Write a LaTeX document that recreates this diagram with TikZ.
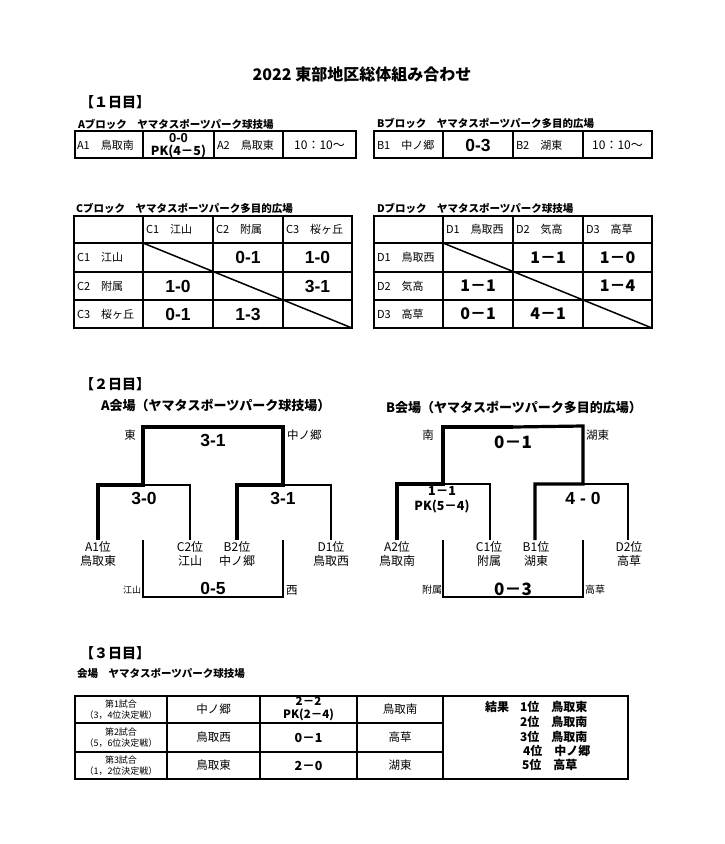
\documentclass[tikz,border=0pt]{standalone}
\usepackage{fontspec}
\setmainfont{Noto Sans CJK JP}
\newfontfamily\latinb{Liberation Sans}
\newcommand\fsz[2]{\fontsize{#1pt}{#2pt}\selectfont}
\tikzset{
  txt/.style={inner sep=0pt, outer sep=0pt},
  ttl/.style={txt, font=\fsz{16}{19}\bfseries},
  daylbl/.style={txt, anchor=west, font=\fsz{14}{17}\bfseries},
  blk/.style={txt, anchor=west, font=\fsz{10.5}{12}\bfseries},
  venue/.style={txt, anchor=west, font=\fsz{13}{15}\bfseries},
  cell/.style={txt, anchor=west, font=\fsz{11}{13}},
  cellc/.style={txt, font=\fsz{11}{13}},
  bigscore/.style={txt, font=\fsz{16}{19}\bfseries},
  arscore/.style={txt, font=\fsz{17.5}{20}\latinb\bfseries},
  midscore/.style={txt, align=center, font=\fsz{12.5}{14.5}\bfseries},
  team/.style={txt, align=center, font=\fsz{12}{14.5}},
  side/.style={txt, font=\fsz{11.5}{13}},
  sidesmall/.style={txt, font=\fsz{9}{10}},
  gridline/.style={line width=2pt},
  winline/.style={line width=3.2pt, line join=miter},
  loseline/.style={line width=1.8pt, line join=miter},
  diag/.style={line width=1.5pt},
  gamelbl/.style={txt, align=center, font=\fsz{9}{11.5}},
  res/.style={txt, anchor=west, font=\fsz{12}{14}\bfseries},
}
\begin{document}
\begin{tikzpicture}[x=1pt,y=-1pt]
\useasboundingbox (0,0) rectangle (724,844);
\fill[white] (0,0) rectangle (724,844);

% title
\node[ttl] (title) at (362,74) {2022 東部地区総体組み合わせ};

% ---------------- Day 1 ----------------
\node[daylbl] (day1) at (80,102) {【１日目】};

% A block
\node[blk] (alab) at (78,124) {Aブロック　ヤマタスポーツパーク球技場};
\draw[gridline] (75,131) rectangle (356,158);
\draw[gridline] (143,131) -- (143,158) (214,131) -- (214,158) (283,131) -- (283,158);
\node[cell] (a1) at (77,145) {A1　鳥取南};
\node[arscore, font=\fsz{13}{15}\latinb\bfseries] (asc1) at (178.5,138) {0-0};
\node[midscore] (asc2) at (178.5,152) {PK(4－5)};
\node[cell] (a2) at (217,145) {A2　鳥取東};
\node[cellc, font=\fsz{12}{14}] (atime) at (319.5,145) {10：10～};

% B block
\node[blk] (blab) at (377,123) {Bブロック　ヤマタスポーツパーク多目的広場};
\draw[gridline] (374,131) rectangle (652,158);
\draw[gridline] (443,131) -- (443,158) (513,131) -- (513,158) (583,131) -- (583,158);
\node[cell] (b1) at (377,145) {B1　中ノ郷};
\node[arscore] (bsc) at (478,145) {0-3};
\node[cell] (b2) at (516,145) {B2　湖東};
\node[cellc, font=\fsz{12}{14}] (btime) at (617.5,145) {10：10～};

% C block
\node[blk] (clab) at (76,208) {Cブロック　ヤマタスポーツパーク多目的広場};
\draw[gridline] (74,216) rectangle (352,328);
\draw[gridline] (143,216) -- (143,328) (213,216) -- (213,328) (283,216) -- (283,328);
\draw[gridline] (74,243) -- (352,243) (74,272) -- (352,272) (74,300) -- (352,300);
\draw[diag] (143,243) -- (352,328);
\node[cell] (ch1) at (146,229.5) {C1　江山};
\node[cell] (ch2) at (216,229.5) {C2　附属};
\node[cell] (ch3) at (286,229.5) {C3　桜ヶ丘};
\node[cell] (cr1) at (77,257.5) {C1　江山};
\node[cell] (cr2) at (77,286) {C2　附属};
\node[cell] (cr3) at (77,314) {C3　桜ヶ丘};
\node[arscore] (c12) at (248,257.5) {0-1};
\node[arscore] (c13) at (317.5,257.5) {1-0};
\node[arscore] (c21) at (178,286) {1-0};
\node[arscore] (c23) at (317.5,286) {3-1};
\node[arscore] (c31) at (178,314) {0-1};
\node[arscore] (c32) at (248,314) {1-3};

% D block
\node[blk] (dlab) at (377,208) {Dブロック　ヤマタスポーツパーク球技場};
\draw[gridline] (374,216) rectangle (652,328);
\draw[gridline] (443,216) -- (443,328) (513,216) -- (513,328) (583,216) -- (583,328);
\draw[gridline] (374,243) -- (652,243) (374,272) -- (652,272) (374,300) -- (652,300);
\draw[diag] (443,243) -- (652,328);
\node[cell] (dh1) at (446,229.5) {D1　鳥取西};
\node[cell] (dh2) at (516,229.5) {D2　気高};
\node[cell] (dh3) at (586,229.5) {D3　高草};
\node[cell] (dr1) at (377,257.5) {D1　鳥取西};
\node[cell] (dr2) at (377,286) {D2　気高};
\node[cell] (dr3) at (377,314) {D3　高草};
\node[bigscore] (d12) at (548,257.5) {1－1};
\node[bigscore] (d13) at (617.5,257.5) {1－0};
\node[bigscore] (d21) at (478,286) {1－1};
\node[bigscore] (d23) at (617.5,286) {1－4};
\node[bigscore] (d31) at (478,314) {0－1};
\node[bigscore] (d32) at (548,314) {4－1};

% ---------------- Day 2 ----------------
\node[daylbl] (day2) at (80,384) {【２日目】};

% A venue
\node[venue] (avenue) at (101,405) {A会場（ヤマタスポーツパーク球技場）};
\coordinate (aL) at (143,427);
\coordinate (aR) at (283,427);
\draw[winline] (98,540) -- (98,485) -- (143,485) -- (aL) -- (aR) -- (283,485) -- (237,485) -- (237,540);
\draw[loseline] (143,485) -- (190,485) -- (190,540);
\draw[loseline] (283,485) -- (331,485) -- (331,540);
\draw[loseline] (143,540) -- (143,597) -- (283,597) -- (283,540);
\node[side] (atl) at (130,435) {東};
\node[side, anchor=west] (atr) at (287,435) {中ノ郷};
\node[arscore] (afin) at (213,440) {3-1};
\node[arscore] (asf1) at (144,498) {3-0};
\node[arscore] (asf2) at (283,498) {3-1};
\node[arscore] (a3rd) at (213,588) {0-5};
\node[team] (ta1) at (98,554) {A1位\\鳥取東};
\node[team] (tc2) at (190,554) {C2位\\江山};
\node[team] (tb2) at (237,554) {B2位\\中ノ郷};
\node[team] (td1) at (331,554) {D1位\\鳥取西};
\node[sidesmall, anchor=east] (abl) at (141,590) {江山};
\node[side, anchor=west] (abr) at (286,590) {西};

% B venue
\node[venue] (bvenue) at (386,407) {B会場（ヤマタスポーツパーク多目的広場）};
\coordinate (bL) at (443,427);
\coordinate (bM) at (513,427);
\coordinate (bR) at (583,426);
\draw[winline] (397,540) -- (397,484) -- (443,484) -- (bL) -- (bM);
\draw[winline] (bM) -- (bR) -- (583,484) -- (535,484) -- (535,540);
\draw[loseline] (443,484) -- (490,484) -- (490,540);
\draw[loseline] (583,484) -- (628,484) -- (628,540);
\draw[loseline] (443,540) -- (443,597) -- (583,597) -- (583,540);
\node[side] (btl) at (428,435) {南};
\node[side, anchor=west] (btr) at (586,435) {湖東};
\node[bigscore, font=\fsz{17}{19}\bfseries] (bfin) at (513,442) {0－1};
\node[midscore] (bsf1) at (442,499.5) {1－1\\PK(5－4)};
\node[arscore] (bsf2) at (583,498) {4 - 0};
\node[bigscore, font=\fsz{17}{19}\bfseries] (b3rd) at (513,589) {0－3};
\node[team] (ta2) at (397,554) {A2位\\鳥取南};
\node[team] (tc1) at (489,554) {C1位\\附属};
\node[team] (tb1) at (536,554) {B1位\\湖東};
\node[team] (td2) at (629,554) {D2位\\高草};
\node[sidesmall, font=\fsz{10}{11}, anchor=east] (bbl) at (442,590) {附属};
\node[sidesmall, font=\fsz{10}{11}, anchor=west] (bbr) at (585,590) {高草};

% ---------------- Day 3 ----------------
\node[daylbl] (day3) at (80,653) {【３日目】};
\node[blk] (vlab3) at (77,673) {会場　ヤマタスポーツパーク球技場};
\draw[gridline] (75,696) rectangle (628,779);
\draw[gridline] (167,696) -- (167,779) (260,696) -- (260,779) (357,696) -- (357,779) (443,696) -- (443,779);
\draw[gridline] (75,723) -- (443,723) (75,752) -- (443,752);
\node[gamelbl] (g1) at (121,709.5) {第1試合\\（3，4位決定戦）};
\node[gamelbl] (g2) at (121,737.5) {第2試合\\（5，6位決定戦）};
\node[gamelbl] (g3) at (121,765.5) {第3試合\\（1，2位決定戦）};
\node[cellc, font=\fsz{11.5}{13}] (t1a) at (213.5,709.5) {中ノ郷};
\node[cellc, font=\fsz{11.5}{13}] (t2a) at (213.5,737.5) {鳥取西};
\node[cellc, font=\fsz{11.5}{13}] (t3a) at (213.5,765.5) {鳥取東};
\node[midscore, font=\fsz{11.5}{13}\bfseries] (s1) at (308.5,709) {2－2\\PK(2－4)};
\node[midscore, font=\fsz{12.5}{14}\bfseries] (s2) at (308.5,737.5) {0－1};
\node[midscore, font=\fsz{12.5}{14}\bfseries] (s3) at (308.5,765.5) {2－0};
\node[cellc, font=\fsz{11.5}{13}] (t1b) at (400,709.5) {鳥取南};
\node[cellc, font=\fsz{11.5}{13}] (t2b) at (400,737.5) {高草};
\node[cellc, font=\fsz{11.5}{13}] (t3b) at (400,765.5) {湖東};
\node[res] (r0) at (485,707) {結果};
\node[res] (r1) at (520,707) {1位　鳥取東};
\node[res] (r2) at (520,722) {2位　鳥取南};
\node[res] (r3) at (520,737) {3位　鳥取南};
\node[res] (r4) at (523,751) {4位　中ノ郷};
\node[res] (r5) at (522,765) {5位　高草};
\end{tikzpicture}
\end{document}
